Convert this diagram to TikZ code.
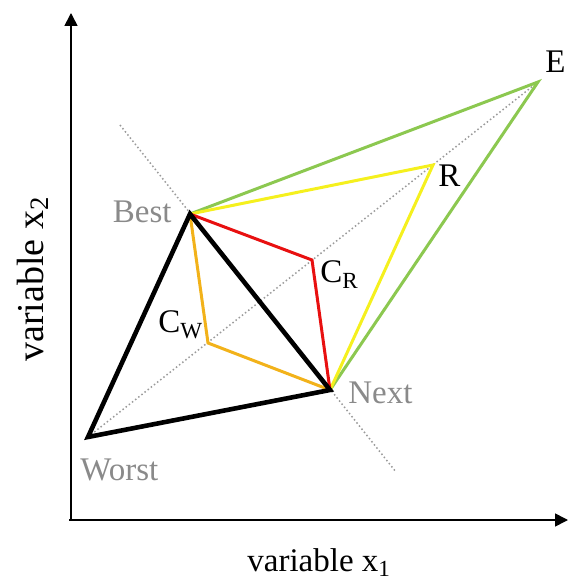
\documentclass[tikz,border=0pt]{standalone}
\usepackage{fontspec}
\setmainfont{Liberation Serif}
\usetikzlibrary{arrows.meta}
\definecolor{labelgray}{HTML}{8A8A8A}
\definecolor{guidegray}{HTML}{9A9A9A}
\definecolor{expgreen}{HTML}{8CC850}
\definecolor{refyellow}{HTML}{F5F01E}
\definecolor{conred}{HTML}{E81010}
\definecolor{conorange}{HTML}{F2B21A}
\tikzset{
  axis/.style={-{Triangle[length=6.5pt,width=6.5pt]}, line width=0.8pt},
  simplex/.style={line width=2.3pt, line join=miter},
  trial/.style={line width=1.5pt, line join=miter},
  guide/.style={line width=0.75pt, dash pattern=on 0.75pt off 1.25pt, color=guidegray},
  lbl/.style={font=\fontsize{16.5}{20}\selectfont, inner sep=0pt},
  vlbl/.style={lbl, text=labelgray}
}

\begin{document}
\begin{tikzpicture}[x=0.5pt, y=-0.5pt]
\useasboundingbox (0,0) rectangle (568,581);
% points of the simplex and the trial points
\coordinate (origin) at (71,520);
\coordinate (ytop) at (71,13);
\coordinate (xend) at (568,520);
\coordinate (best) at (190,214);
\coordinate (next) at (330,390);
\coordinate (worst) at (88,437);
\coordinate (cw) at (208,343);
\coordinate (cr) at (312,260);
\coordinate (r) at (433,165);
\coordinate (e) at (538,82);
\coordinate (ga) at (120,125);
\coordinate (gb) at (396,472);
% axes
\draw[axis] (origin) -- (ytop);
\draw[axis] ([xshift=-1]origin) -- (xend);
% guide lines
\draw[guide] (ga) -- (gb);
\draw[guide] (worst) -- (e);
% trial triangles
\draw[trial, expgreen] (best) -- (e) -- (next);
\draw[trial, refyellow] (best) -- (r) -- (next);
\draw[trial, conred] (best) -- (cr) -- (next);
\draw[trial, conorange] (best) -- (cw) -- (next);
\draw[simplex] (worst) -- (best) -- (next) -- cycle;
% labels
\node[vlbl, anchor=base east] (lbest) at (172,223) {Best};
\node[vlbl, anchor=base west] (lnext) at (348,403) {Next};
\node[vlbl, anchor=base west] (lworst) at (80,480) {Worst};
\node[lbl, anchor=base west] (le) at (545,73) {E};
\node[lbl, anchor=base west] (lr) at (438,187) {R};
\node[lbl, anchor=base west] (lcr) at (320,283) {C\textsubscript{R}};
\node[lbl, anchor=base west] (lcw) at (158,333) {C\textsubscript{W}};
\node[lbl, anchor=base west] (xlab) at (247,571) {variable x\textsubscript{1}};
\node[lbl, anchor=base west, rotate=90, font=\fontsize{19}{23}\selectfont] (ylab) at (43,362) {variable x\textsubscript{2}};
\end{tikzpicture}
\end{document}
